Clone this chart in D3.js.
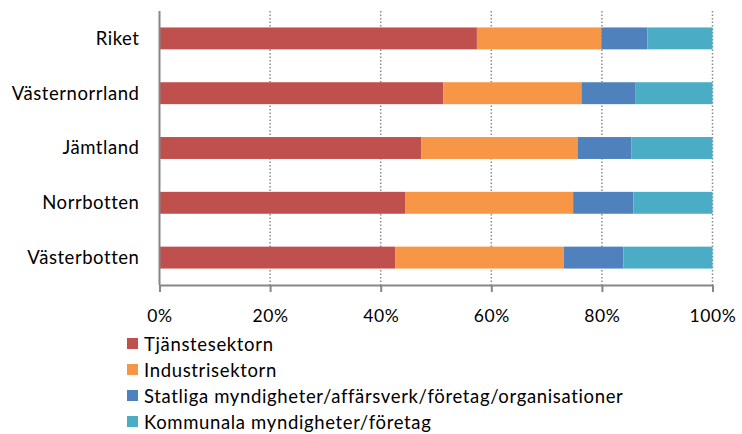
<!DOCTYPE html>
<meta charset="utf-8">
<style>
  body { margin: 0; background: #fff; }
  text { font-family: Lato, "Open Sans", sans-serif; fill: #000; }
  .grid line { stroke: #8c8c8c; stroke-width: 1.5; stroke-dasharray: 1.5,2; }
  .axis path, .axis line { stroke: #878787; stroke-width: 2; }
</style>
<body>
<svg width="742" height="434"></svg>
<script src="https://d3js.org/d3.v7.min.js"></script>
<script>

// regions, top to bottom
var regions = ["Riket", "Västernorrland", "Jämtland", "Norrbotten", "Västerbotten"];

// share of employees (%) per sector
var tjanste   = [57.4, 51.3, 47.3, 44.4, 42.6];
var industri  = [22.5, 25.0, 28.3, 30.4, 30.5];
var statliga  = [ 8.3,  9.7,  9.7, 10.9, 10.8];
var kommunala = [11.8, 14.0, 14.7, 14.3, 16.1];

var seriesNames = ["Tjänstesektorn", "Industrisektorn",
  "Statliga myndigheter/affärsverk/företag/organisationer",
  "Kommunala myndigheter/företag"];
var colors = ["#c0504d", "#f79646", "#4f81bd", "#4bacc6"];
var ticks = [0, 20, 40, 60, 80, 100];

var svg = d3.select("svg");
var margin = {left: 159.5, right: 29.5, top: 11, bottom: 149};
var width = 742 - margin.left - margin.right,
    height = 434 - margin.top - margin.bottom;

var rows = regions.map(function(r, i) {
  return {region: r, s0: tjanste[i], s1: industri[i], s2: statliga[i], s3: kommunala[i]};
});
var stack = d3.stack().keys(["s0", "s1", "s2", "s3"])
    .offset(d3.stackOffsetExpand);
var layers = stack(rows);

var x = d3.scaleLinear().domain([0, 1]).range([0, width]);
var y = d3.scaleBand().domain(regions).range([0, height]).paddingInner(0.6).paddingOuter(0.3);

var g = svg.append("g").attr("transform", "translate(" + margin.left + "," + margin.top + ")");

// dotted vertical gridlines
g.append("g").attr("class", "grid")
  .selectAll("line")
  .data(ticks.slice(1))
  .enter().append("line")
    .attr("x1", function(d) { return x(d / 100); })
    .attr("x2", function(d) { return x(d / 100); })
    .attr("y1", 0)
    .attr("y2", height);

g.append("g")
  .selectAll("g")
  .data(layers)
  .enter().append("g")
    .attr("fill", function(d, i) { return colors[i]; })
  .selectAll("rect")
  .data(function(d) { return d; })
  .enter().append("rect")
    .attr("x", function(d) { return x(d[0]); })
    .attr("width", function(d) { return x(d[1]) - x(d[0]); })
    .attr("y", function(d) { return y(d.data.region); })
    .attr("height", y.bandwidth());

// x axis
var xAxis = g.append("g")
    .attr("class", "axis")
    .attr("transform", "translate(0," + height + ")")
    .call(d3.axisBottom(x)
      .tickValues(ticks.map(function(d) { return d / 100; }))
      .tickFormat(function(d) { return Math.round(d * 100) + "%"; })
      .tickSize(7).tickSizeOuter(0));
xAxis.selectAll("text")
    .attr("y", 0).attr("dy", null)
    .attr("transform", "translate(0,37)")
    .style("font-size", "17.5px")
    .style("letter-spacing", "0.6px");

// y axis
var yAxis = g.append("g")
    .attr("class", "axis")
    .call(d3.axisLeft(y).tickSize(0).tickSizeOuter(0));
yAxis.select(".domain").attr("d", "M0,0V" + height);
yAxis.selectAll("text")
    .attr("x", -20)
    .attr("dy", "0.35em")
    .style("font-size", "18.5px")
    .style("letter-spacing", "0.55px");
g.selectAll(".axis").select(".domain").attr("fill", "none");

// legend
var legend = svg.append("g").attr("transform", "translate(127,338)")
  .selectAll("g")
  .data(seriesNames)
  .enter().append("g")
    .attr("transform", function(d, i) { return "translate(0," + (i * 26) + ")"; });
legend.append("rect")
    .attr("width", 11).attr("height", 11)
    .attr("fill", function(d, i) { return colors[i]; });
legend.append("text")
    .attr("x", 17).attr("y", 12.5)
    .style("font-size", "18.5px")
    .style("letter-spacing", "0.65px")
    .text(function(d) { return d; });

</script>
</body>
